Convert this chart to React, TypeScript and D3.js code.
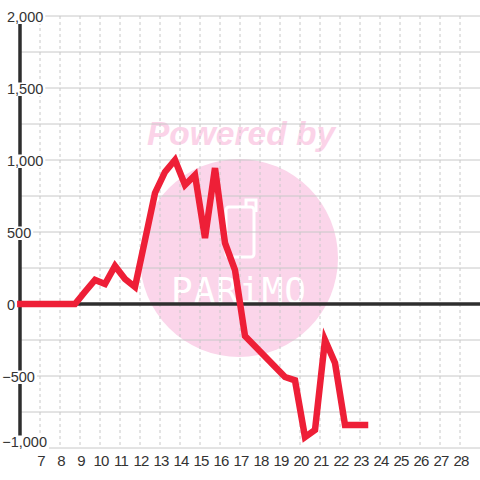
import React, { useEffect, useRef } from "react";
import * as d3 from "d3";

const hours = [6, 8.75, 9.25, 9.75, 10.25, 10.75, 11.25, 11.75, 12.25, 12.75, 13.25, 13.75, 14.25, 14.75, 15.25, 15.75, 16.25, 16.75, 17.25, 17.75, 18.25, 18.75, 19.25, 19.75, 20.25, 20.75, 21.25, 21.75, 22.25, 22.75, 23.25];
const values = [0, 0, 85, 167, 139, 264, 174, 118, 444, 771, 917, 1000, 826, 896, 458, 944, 424, 236, -222, -293, -364, -436, -507, -530, -924, -875, -250, -410, -840, -840, -840];
const xTicks = [7, 8, 9, 10, 11, 12, 13, 14, 15, 16, 17, 18, 19, 20, 21, 22, 23, 24, 25, 26, 27, 28];
const yTicks = [-1000, -500, 0, 500, 1000, 1500, 2000];
const yGrid = [-1000, -750, -500, -250, 0, 250, 500, 750, 1000, 1250, 1500, 1750, 2000];

const W = 480;
const H = 480;
const FONT = "'Liberation Sans', Arial, sans-serif";

export default function App() {
  const ref = useRef<SVGSVGElement | null>(null);

  useEffect(() => {
    const svg = d3.select(ref.current);
    svg.selectAll("*").remove();

    const x = d3.scaleLinear().domain([6, 29]).range([20, 480]);
    const y = d3.scaleLinear().domain([-1000, 2000]).range([448, 16]);

    svg.append("rect").attr("width", W).attr("height", H).attr("fill", "#ffffff");

    // watermark
    const wm = svg.append("g");
    wm.append("circle").attr("cx", 239).attr("cy", 258).attr("r", 99).attr("fill", "#fbd5ea");
    wm.append("text")
      .attr("x", 241).attr("y", 145)
      .attr("text-anchor", "middle")
      .attr("font-family", FONT)
      .attr("font-weight", "bold")
      .attr("font-style", "italic")
      .attr("font-size", 33.5)
      .attr("fill", "#fbd3e8")
      .text("Powered by");
    wm.append("rect").attr("x", 226).attr("y", 207).attr("width", 28).attr("height", 50).attr("rx", 3)
      .attr("fill", "none").attr("stroke", "#ffffff").attr("stroke-width", 3);
    wm.append("path").attr("d", "M246,207 L246,200 L256,200 L256,212").attr("fill", "none").attr("stroke", "#ffffff").attr("stroke-width", 3);
    wm.append("text")
      .attr("x", 239).attr("y", 303)
      .attr("text-anchor", "middle")
      .attr("font-family", "'DejaVu Sans Mono', monospace")
      .attr("font-size", 36)
      .attr("letter-spacing", 1)
      .attr("fill", "#ffffff")
      .text("PARiMO");

    // vertical dashed grid
    svg.append("g").selectAll("line").data(xTicks).join("line")
      .attr("x1", (d) => x(d)).attr("x2", (d) => x(d))
      .attr("y1", y(2000)).attr("y2", y(-1000))
      .attr("stroke", "#c8c8c8").attr("stroke-width", 1)
      .attr("stroke-dasharray", "3,3");

    // horizontal grid
    svg.append("g").selectAll("line").data(yGrid).join("line")
      .attr("x1", 20).attr("x2", 480)
      .attr("y1", (d) => y(d)).attr("y2", (d) => y(d))
      .attr("stroke", "#c8c8c8").attr("stroke-width", 1);

    // axis line
    svg.append("line").attr("x1", 20).attr("x2", 20).attr("y1", y(2000)).attr("y2", y(-1000))
      .attr("stroke", "#2e2e2e").attr("stroke-width", 3.5);
    // zero line
    svg.append("line").attr("x1", 20).attr("x2", 480).attr("y1", y(0)).attr("y2", y(0))
      .attr("stroke", "#2e2e2e").attr("stroke-width", 3.5);

    // data line
    const line = d3.line<number>().x((_, i) => x(hours[i])).y((d) => y(d));
    svg.append("path").datum(values)
      .attr("d", line)
      .attr("fill", "none")
      .attr("stroke", "#ee1f37")
      .attr("stroke-width", 6.5)
      .attr("stroke-linecap", "square");

    // y labels with white backgrounds
    const yl = svg.append("g");
    yTicks.forEach((v) => {
      const g = yl.append("g");
      const bg = g.append("rect").attr("fill", "#ffffff");
      const base = Math.min(y(v) + 6, 447);
      const t = g.append("text")
        .attr("x", v < 0 ? 2.2 : 7)
        .attr("y", base)
        .attr("font-family", FONT)
        .attr("font-size", 14.5)
        .attr("fill", "#333333")
        .text(d3.format(",")(v));
      const bb = (t.node() as SVGTextElement).getBBox();
      bg.attr("x", bb.x - 2).attr("y", bb.y + 1.5).attr("width", bb.width + 4).attr("height", bb.height - 2.5);
    });

    // x labels
    svg.append("g").selectAll("text").data(xTicks).join("text")
      .attr("x", (d) => x(d) + 1)
      .attr("y", 466)
      .attr("text-anchor", "middle")
      .attr("font-family", FONT)
      .attr("font-size", 15)
      .attr("letter-spacing", -0.8)
      .attr("fill", "#333333")
      .text((d) => String(d));
  }, []);

  return (
    <svg ref={ref} width={W} height={H} style={{ position: "absolute", left: 0, top: 0, display: "block" }} />
  );
}
